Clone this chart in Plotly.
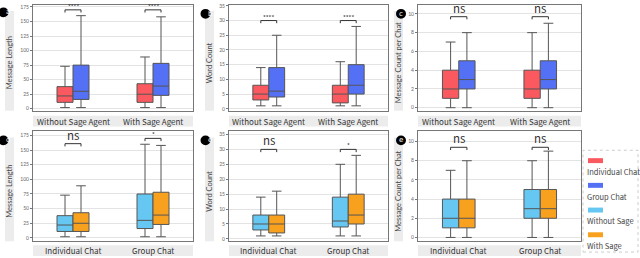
import plotly.graph_objects as go

W, H = 640, 258
FONT = "Noto Sans CJK SC, Source Sans Pro, Lato, sans-serif"
ROT_FONT = "Lato, Roboto, sans-serif"
LETTER_FONT = "DejaVu Sans, sans-serif"

# ---------------- data ----------------
cats_top = ["Without Sage Agent", "With Sage Agent"]
cats_bot = ["Individual Chat", "Group Chat"]

# Panel a: Message Length (x = Without / With Sage Agent)
a_ind_lo, a_ind_q1, a_ind_med, a_ind_q3, a_ind_hi = [2, 2], [11, 11], [22, 25], [38, 43], [73, 89]
a_grp_lo, a_grp_q1, a_grp_med, a_grp_q3, a_grp_hi = [2, 2], [16, 23], [30, 39], [75, 78], [160, 158]
# Panel b: Word Count
b_ind_lo, b_ind_q1, b_ind_med, b_ind_q3, b_ind_hi = [1, 1], [3, 2], [5, 5], [8, 8], [14, 16]
b_grp_lo, b_grp_q1, b_grp_med, b_grp_q3, b_grp_hi = [1, 1], [4, 5], [6, 8], [14, 15], [25, 28]
# Panel c: Message Count per Chat
c_ind_lo, c_ind_q1, c_ind_med, c_ind_q3, c_ind_hi = [0, 0], [1, 1], [2, 2], [4, 4], [7, 8]
c_grp_lo, c_grp_q1, c_grp_med, c_grp_q3, c_grp_hi = [0, 0], [2, 2], [3, 3], [5, 5], [8, 9]

# Panel d: Message Length (x = Individual / Group Chat)
d_wo_lo, d_wo_q1, d_wo_med, d_wo_q3, d_wo_hi = [2, 2], [11, 16], [22, 30], [38, 75], [73, 160]
d_w_lo, d_w_q1, d_w_med, d_w_q3, d_w_hi = [2, 2], [11, 23], [25, 39], [43, 78], [89, 158]
# Panel e: Word Count
e_wo_lo, e_wo_q1, e_wo_med, e_wo_q3, e_wo_hi = [1, 1], [3, 4], [5, 6], [8, 14], [14, 25]
e_w_lo, e_w_q1, e_w_med, e_w_q3, e_w_hi = [1, 1], [2, 5], [5, 8], [8, 15], [16, 28]
# Panel f: Message Count per Chat
f_wo_lo, f_wo_q1, f_wo_med, f_wo_q3, f_wo_hi = [0, 0], [1, 2], [2, 3], [4, 5], [7, 8]
f_w_lo, f_w_q1, f_w_med, f_w_q3, f_w_hi = [0, 0], [1, 2], [2, 3], [4, 5], [8, 9]

# significance labels and bracket heights per panel
sig_a, sig_a_y = ["****", "****"], [170, 170]
sig_b, sig_b_y = ["****", "****"], [30, 30]
sig_c, sig_c_y = ["ns", "ns"], [9.7, 9.7]
sig_d, sig_d_y = ["ns", "*"], [161, 170]
sig_e, sig_e_y = ["ns", "*"], [30, 30]
sig_f, sig_f_y = ["ns", "ns"], [9.4, 9.4]

y_titles = ["Message Length", "Word Count", "Message Count per Chat"]
panel_letters = ["a", "b", "c", "d", "e", "e"]
legend_labels = ["Individual Chat", "Group Chat", "Without Sage", "With Sage"]

RED, BLUE, LBLUE, ORANGE = "#F9595F", "#5470F5", "#66C8F2", "#F8A11E"
legend_colors = [RED, BLUE, LBLUE, ORANGE]

# ---------------- layout geometry (pixels) ----------------
cols_px = [(33, 193), (229, 388), (418, 581)]
rows_px = [(3, 110), (131, 242)]
yranges = [[-3.4, 178.4], [-0.66, 35.3], [-0.32, 10.95],
           [-5.6, 181.8], [-0.76, 36.0], [-0.39, 11.05]]
ytickvals = [list(range(0, 176, 25)), list(range(0, 36, 5)), list(range(0, 11, 2))]

def px_x(p):
    return p / W

def px_y(p):
    return 1 - p / H

fig = go.Figure()

panels = [
    (cats_top, [(a_ind_lo, a_ind_q1, a_ind_med, a_ind_q3, a_ind_hi, RED, "Individual Chat"),
                (a_grp_lo, a_grp_q1, a_grp_med, a_grp_q3, a_grp_hi, BLUE, "Group Chat")], sig_a, sig_a_y),
    (cats_top, [(b_ind_lo, b_ind_q1, b_ind_med, b_ind_q3, b_ind_hi, RED, "Individual Chat"),
                (b_grp_lo, b_grp_q1, b_grp_med, b_grp_q3, b_grp_hi, BLUE, "Group Chat")], sig_b, sig_b_y),
    (cats_top, [(c_ind_lo, c_ind_q1, c_ind_med, c_ind_q3, c_ind_hi, RED, "Individual Chat"),
                (c_grp_lo, c_grp_q1, c_grp_med, c_grp_q3, c_grp_hi, BLUE, "Group Chat")], sig_c, sig_c_y),
    (cats_bot, [(d_wo_lo, d_wo_q1, d_wo_med, d_wo_q3, d_wo_hi, LBLUE, "Without Sage"),
                (d_w_lo, d_w_q1, d_w_med, d_w_q3, d_w_hi, ORANGE, "With Sage")], sig_d, sig_d_y),
    (cats_bot, [(e_wo_lo, e_wo_q1, e_wo_med, e_wo_q3, e_wo_hi, LBLUE, "Without Sage"),
                (e_w_lo, e_w_q1, e_w_med, e_w_q3, e_w_hi, ORANGE, "With Sage")], sig_e, sig_e_y),
    (cats_bot, [(f_wo_lo, f_wo_q1, f_wo_med, f_wo_q3, f_wo_hi, LBLUE, "Without Sage"),
                (f_w_lo, f_w_q1, f_w_med, f_w_q3, f_w_hi, ORANGE, "With Sage")], sig_f, sig_f_y),
]

shapes, annotations = [], []
layout_axes = {}
BOXW = 0.2  # width of one box in category units

for i, (cats, series, sigs, sig_ys) in enumerate(panels):
    r, c = divmod(i, 3)
    n = i + 1
    xa = "x" if n == 1 else f"x{n}"
    ya = "y" if n == 1 else f"y{n}"
    for s_idx, (lo, q1, med, q3, hi, col, nm) in enumerate(series):
        fig.add_trace(go.Box(
            x=cats, lowerfence=lo, q1=q1, median=med, q3=q3, upperfence=hi,
            name=nm, fillcolor=col, line=dict(color="#555555", width=1),
            whiskerwidth=0.6, showlegend=False, xaxis=xa, yaxis=ya,
            alignmentgroup=f"p{n}", offsetgroup=f"s{s_idx}",
            hoverinfo="skip"))
    x0p, x1p = cols_px[c]
    y0p, y1p = rows_px[r]
    layout_axes["xaxis" if n == 1 else f"xaxis{n}"] = dict(
        domain=[px_x(x0p), px_x(x1p)], anchor=ya, type="category",
        range=[-0.5, 1.5], showticklabels=False, ticks="", showgrid=False,
        showline=True, linecolor="#777777", linewidth=1, mirror=True, zeroline=False)
    layout_axes["yaxis" if n == 1 else f"yaxis{n}"] = dict(
        domain=[px_y(y1p), px_y(y0p)], anchor=xa, range=yranges[i],
        tickvals=ytickvals[c], ticks="outside", ticklen=2, tickcolor="#777777",
        tickfont=dict(size=5, color="#666666", family=ROT_FONT),
        showgrid=True, gridcolor="#E3E3E3", gridwidth=1,
        showline=True, linecolor="#777777", linewidth=1, mirror=True, zeroline=False)

    # x category label band + labels
    band_top = y1p + 5 if r == 0 else y1p + 4
    band_bot = band_top + 11
    shapes.append(dict(type="rect", xref="paper", yref="paper", layer="below",
                       x0=px_x(x0p), x1=px_x(x1p), y0=px_y(band_bot), y1=px_y(band_top),
                       fillcolor="#ECECEC", line=dict(width=0)))
    for k, cat in enumerate(cats):
        annotations.append(dict(x=k, y=px_y((band_top + band_bot) / 2), xref=xa, yref="paper",
                                text=cat, showarrow=False, yanchor="middle",
                                font=dict(size=8, color="#333333", family=FONT)))
    # y title band + title
    ty0 = x0p - 28 if c == 0 else x0p - 24
    shapes.append(dict(type="rect", xref="paper", yref="paper", layer="below",
                       x0=px_x(ty0), x1=px_x(ty0 + 9), y0=px_y(y1p), y1=px_y(y0p + 6),
                       fillcolor="#ECECEC", line=dict(width=0)))
    annotations.append(dict(x=px_x(ty0 + 4.5), y=px_y((y0p + 6 + y1p) / 2 + 2), xref="paper",
                            yref="paper", text=y_titles[c], textangle=-90, showarrow=False,
                            xanchor="center", yanchor="middle",
                            font=dict(size=7.5, color="#444444", family=ROT_FONT)))
    # panel letter circle
    cx = [3.5, 205.5, 401][c]
    cy = [10.5, 140][r] if c == 0 else [12, 140][r]
    shapes.append(dict(type="circle", xref="paper", yref="paper", layer="below",
                       x0=px_x(cx - 5), x1=px_x(cx + 5), y0=px_y(cy + 5), y1=px_y(cy - 5),
                       fillcolor="black", line=dict(width=0)))
    annotations.append(dict(x=px_x(cx), y=px_y(cy), xref="paper", yref="paper",
                            text=panel_letters[i], showarrow=False, yanchor="middle",
                            font=dict(size=7, color="white", family=LETTER_FONT)))
    # significance brackets
    span = yranges[i][1] - yranges[i][0]
    leg = span * 0.025
    for k, (s, sy) in enumerate(zip(sigs, sig_ys)):
        xl, xr = k - BOXW / 2, k + BOXW / 2
        shapes.append(dict(type="path", xref=xa, yref=ya,
                           path=f"M {xl} {sy - leg} L {xl} {sy} L {xr} {sy} L {xr} {sy - leg}",
                           line=dict(color="#333333", width=1)))
        big = s == "ns"
        annotations.append(dict(x=k, y=sy, xref=xa, yref=ya, text=s, showarrow=False,
                                yanchor="bottom", yshift=-1 if big else -3,
                                font=dict(size=11.5 if big else 6, color="#333333", family=FONT)))

# legend (manual)
shapes.append(dict(type="rect", xref="paper", yref="paper",
                   x0=px_x(583), x1=px_x(638), y0=px_y(253), y1=px_y(150),
                   line=dict(color="#CCCCCC", width=1, dash="dot"), fillcolor="rgba(0,0,0,0)"))
for j, (lab, col) in enumerate(zip(legend_labels, legend_colors)):
    sy = 158 + 25 * j
    shapes.append(dict(type="rect", xref="paper", yref="paper",
                       x0=px_x(588), x1=px_x(603), y0=px_y(sy + 5), y1=px_y(sy),
                       fillcolor=col, line=dict(width=0)))
    annotations.append(dict(x=px_x(585), y=px_y(sy + 13.5), xref="paper", yref="paper",
                            text=lab, showarrow=False, xanchor="left", yanchor="middle",
                            font=dict(size=7.5, color="#444444", family=FONT)))

fig.update_layout(
    width=W, height=H, margin=dict(l=0, r=0, t=0, b=0),
    paper_bgcolor="white", plot_bgcolor="white",
    boxmode="group", boxgap=0.6, boxgroupgap=0,
    shapes=shapes, annotations=annotations, showlegend=False,
    font=dict(family=FONT),
    **layout_axes)

fig.write_html("out.html", config={"displayModeBar": False},
               post_script="document.body.style.margin='0';")
